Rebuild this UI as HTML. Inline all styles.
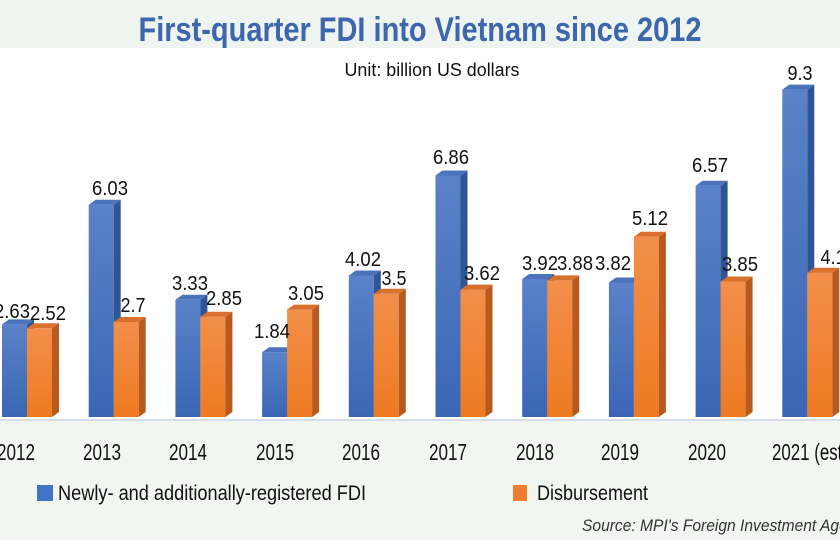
<!DOCTYPE html>
<html><head><meta charset="utf-8"><style>
html,body{margin:0;padding:0;width:840px;height:540px;overflow:hidden;background:#fff}
svg{display:block}
text{font-family:"Liberation Sans",sans-serif;fill:#111}
</style></head><body>
<svg width="840" height="540" viewBox="0 0 840 540">
<defs>
<linearGradient id="bf" x1="0" x2="0" y1="0" y2="1"><stop offset="0" stop-color="#5b82c8"/><stop offset="1" stop-color="#3a66b4"/></linearGradient>
<linearGradient id="of" x1="0" x2="0" y1="0" y2="1"><stop offset="0" stop-color="#f28f4a"/><stop offset="1" stop-color="#ee7a22"/></linearGradient>
</defs>
<rect x="0" y="0" width="840" height="48" fill="#eef4ef"/>
<rect x="0" y="420" width="840" height="120" fill="#f2f6f1"/>
<line x1="0" y1="420" x2="840" y2="420" stroke="#d5dde8" stroke-width="2"/>
<text x="420" y="41" text-anchor="middle" font-size="34" font-weight="bold" style="fill:#3d66ad" textLength="563" lengthAdjust="spacingAndGlyphs">First-quarter FDI into Vietnam since 2012</text>
<text x="432" y="76" text-anchor="middle" font-size="18" textLength="175" lengthAdjust="spacingAndGlyphs">Unit: billion US dollars</text>

<g id="bars">
<g fill="url(#bf)">
<rect x="2" y="324.4" width="25" height="92.6"/>
<rect x="88.7" y="204.7" width="25" height="212.3"/>
<rect x="175.4" y="299.8" width="25" height="117.2"/>
<rect x="262.1" y="352.2" width="25" height="64.8"/>
<rect x="348.8" y="275.5" width="25" height="141.5"/>
<rect x="435.5" y="175.5" width="25" height="241.5"/>
<rect x="522.2" y="279" width="25" height="138"/>
<rect x="608.9" y="282.5" width="25" height="134.5"/>
<rect x="695.6" y="185.7" width="25" height="231.3"/>
<rect x="782.3" y="89.6" width="25" height="327.4"/>
</g>
<g fill="#2f5597">
<polygon points="27,324.4 34,319.4 34,412 27,417"/>
<polygon points="113.7,204.7 120.7,199.7 120.7,412 113.7,417"/>
<polygon points="200.4,299.8 207.4,294.8 207.4,412 200.4,417"/>
<polygon points="287.1,352.2 294.1,347.2 294.1,412 287.1,417"/>
<polygon points="373.8,275.5 380.8,270.5 380.8,412 373.8,417"/>
<polygon points="460.5,175.5 467.5,170.5 467.5,412 460.5,417"/>
<polygon points="547.2,279 554.2,274 554.2,412 547.2,417"/>
<polygon points="633.9,282.5 640.9,277.5 640.9,412 633.9,417"/>
<polygon points="720.6,185.7 727.6,180.7 727.6,412 720.6,417"/>
<polygon points="807.3,89.6 814.3,84.6 814.3,412 807.3,417"/>
</g>
<g fill="#4a73bb">
<polygon points="2,324.4 9,319.4 34,319.4 27,324.4"/>
<polygon points="88.7,204.7 95.7,199.7 120.7,199.7 113.7,204.7"/>
<polygon points="175.4,299.8 182.4,294.8 207.4,294.8 200.4,299.8"/>
<polygon points="262.1,352.2 269.1,347.2 294.1,347.2 287.1,352.2"/>
<polygon points="348.8,275.5 355.8,270.5 380.8,270.5 373.8,275.5"/>
<polygon points="435.5,175.5 442.5,170.5 467.5,170.5 460.5,175.5"/>
<polygon points="522.2,279 529.2,274 554.2,274 547.2,279"/>
<polygon points="608.9,282.5 615.9,277.5 640.9,277.5 633.9,282.5"/>
<polygon points="695.6,185.7 702.6,180.7 727.6,180.7 720.6,185.7"/>
<polygon points="782.3,89.6 789.3,84.6 814.3,84.6 807.3,89.6"/>
</g>
<g fill="url(#of)">
<rect x="27" y="328.3" width="25" height="88.7"/>
<rect x="113.7" y="322" width="25" height="95"/>
<rect x="200.4" y="316.7" width="25" height="100.3"/>
<rect x="287.1" y="309.6" width="25" height="107.4"/>
<rect x="373.8" y="293.8" width="25" height="123.2"/>
<rect x="460.5" y="289.6" width="25" height="127.4"/>
<rect x="547.2" y="280.4" width="25" height="136.6"/>
<rect x="633.9" y="236.8" width="25" height="180.2"/>
<rect x="720.6" y="281.5" width="25" height="135.5"/>
<rect x="807.3" y="272.7" width="25" height="144.3"/>
</g>
<g fill="#b85a1e">
<polygon points="52,328.3 59,323.3 59,412 52,417"/>
<polygon points="138.7,322 145.7,317 145.7,412 138.7,417"/>
<polygon points="225.4,316.7 232.4,311.7 232.4,412 225.4,417"/>
<polygon points="312.1,309.6 319.1,304.6 319.1,412 312.1,417"/>
<polygon points="398.8,293.8 405.8,288.8 405.8,412 398.8,417"/>
<polygon points="485.5,289.6 492.5,284.6 492.5,412 485.5,417"/>
<polygon points="572.2,280.4 579.2,275.4 579.2,412 572.2,417"/>
<polygon points="658.9,236.8 665.9,231.8 665.9,412 658.9,417"/>
<polygon points="745.6,281.5 752.6,276.5 752.6,412 745.6,417"/>
<polygon points="832.3,272.7 839.3,267.7 839.3,412 832.3,417"/>
</g>
<g fill="#d9712c">
<polygon points="27,328.3 34,323.3 59,323.3 52,328.3"/>
<polygon points="113.7,322 120.7,317 145.7,317 138.7,322"/>
<polygon points="200.4,316.7 207.4,311.7 232.4,311.7 225.4,316.7"/>
<polygon points="287.1,309.6 294.1,304.6 319.1,304.6 312.1,309.6"/>
<polygon points="373.8,293.8 380.8,288.8 405.8,288.8 398.8,293.8"/>
<polygon points="460.5,289.6 467.5,284.6 492.5,284.6 485.5,289.6"/>
<polygon points="547.2,280.4 554.2,275.4 579.2,275.4 572.2,280.4"/>
<polygon points="633.9,236.8 640.9,231.8 665.9,231.8 658.9,236.8"/>
<polygon points="720.6,281.5 727.6,276.5 752.6,276.5 745.6,281.5"/>
<polygon points="807.3,272.7 814.3,267.7 839.3,267.7 832.3,272.7"/>
</g>
</g>

<g font-size="20" text-anchor="middle">
<text x="12" y="318" textLength="36" lengthAdjust="spacingAndGlyphs">2.63</text>
<text x="48" y="320" textLength="36" lengthAdjust="spacingAndGlyphs">2.52</text>
<text x="110" y="195" textLength="36" lengthAdjust="spacingAndGlyphs">6.03</text>
<text x="133" y="312" textLength="25" lengthAdjust="spacingAndGlyphs">2.7</text>
<text x="190" y="290" textLength="36" lengthAdjust="spacingAndGlyphs">3.33</text>
<text x="224" y="305" textLength="36" lengthAdjust="spacingAndGlyphs">2.85</text>
<text x="272" y="338" textLength="36" lengthAdjust="spacingAndGlyphs">1.84</text>
<text x="306" y="300" textLength="36" lengthAdjust="spacingAndGlyphs">3.05</text>
<text x="363" y="266" textLength="36" lengthAdjust="spacingAndGlyphs">4.02</text>
<text x="394" y="285" textLength="25" lengthAdjust="spacingAndGlyphs">3.5</text>
<text x="451" y="164" textLength="36" lengthAdjust="spacingAndGlyphs">6.86</text>
<text x="482" y="280" textLength="36" lengthAdjust="spacingAndGlyphs">3.62</text>
<text x="540" y="270" textLength="36" lengthAdjust="spacingAndGlyphs">3.92</text>
<text x="575" y="270" textLength="36" lengthAdjust="spacingAndGlyphs">3.88</text>
<text x="613" y="270" textLength="36" lengthAdjust="spacingAndGlyphs">3.82</text>
<text x="650" y="225" textLength="36" lengthAdjust="spacingAndGlyphs">5.12</text>
<text x="710" y="172" textLength="36" lengthAdjust="spacingAndGlyphs">6.57</text>
<text x="740" y="271" textLength="36" lengthAdjust="spacingAndGlyphs">3.85</text>
<text x="800" y="80" textLength="25" lengthAdjust="spacingAndGlyphs">9.3</text>
<text x="833" y="264" textLength="25" lengthAdjust="spacingAndGlyphs">4.1</text>
</g>

<g font-size="23" text-anchor="middle">
<text x="16" y="460" textLength="38" lengthAdjust="spacingAndGlyphs">2012</text>
<text x="102" y="460" textLength="38" lengthAdjust="spacingAndGlyphs">2013</text>
<text x="188" y="460" textLength="38" lengthAdjust="spacingAndGlyphs">2014</text>
<text x="275" y="460" textLength="38" lengthAdjust="spacingAndGlyphs">2015</text>
<text x="361" y="460" textLength="38" lengthAdjust="spacingAndGlyphs">2016</text>
<text x="448" y="460" textLength="38" lengthAdjust="spacingAndGlyphs">2017</text>
<text x="535" y="460" textLength="38" lengthAdjust="spacingAndGlyphs">2018</text>
<text x="620" y="460" textLength="38" lengthAdjust="spacingAndGlyphs">2019</text>
<text x="707" y="460" textLength="38" lengthAdjust="spacingAndGlyphs">2020</text>
<text x="772" y="460" text-anchor="start" textLength="76" lengthAdjust="spacingAndGlyphs">2021 (est)</text>
</g>

<rect x="37" y="485" width="16" height="16" fill="#4472c4"/>
<text x="58" y="500" font-size="21" textLength="308" lengthAdjust="spacingAndGlyphs">Newly- and additionally-registered FDI</text>
<rect x="513" y="485" width="14" height="16" fill="#ed7d31"/>
<text x="537" y="500" font-size="21" textLength="111" lengthAdjust="spacingAndGlyphs">Disbursement</text>
<text x="582" y="531" font-size="17" font-style="italic" style="fill:#333" textLength="290" lengthAdjust="spacingAndGlyphs">Source: MPI's Foreign Investment Agency</text>
</svg>
</body></html>
